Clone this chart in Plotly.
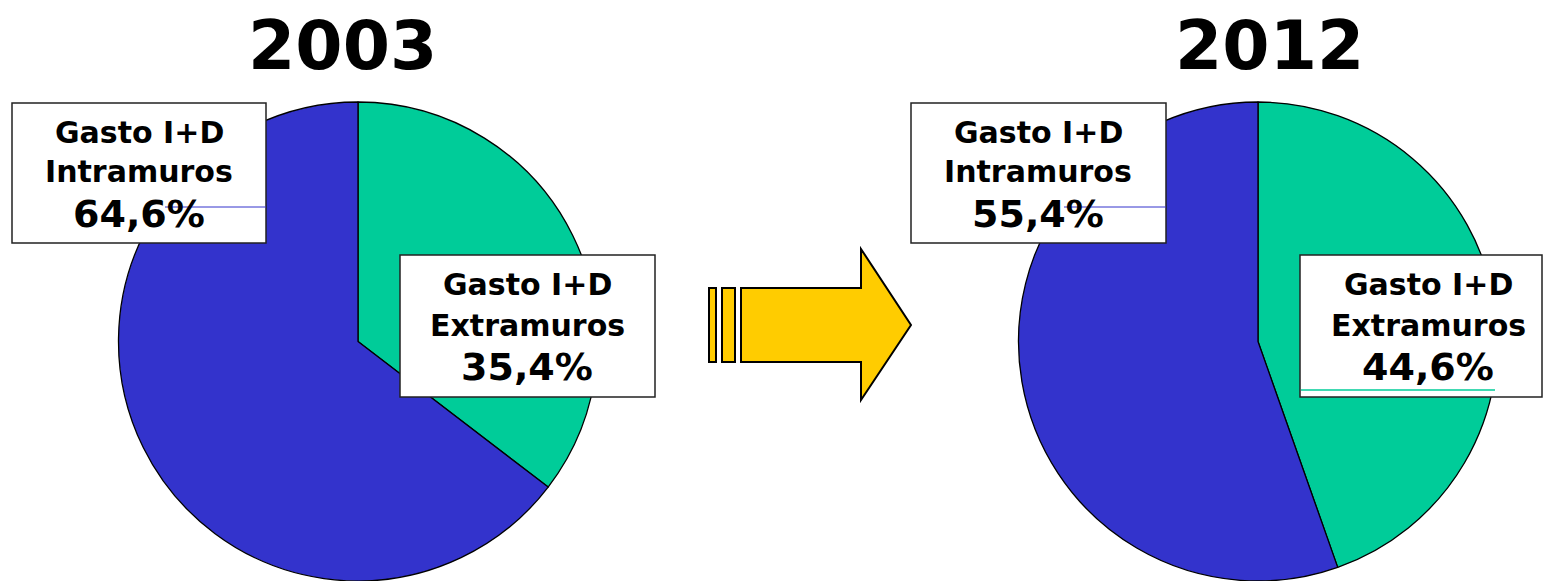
import plotly.graph_objects as go

W, H = 1543, 581

categories = ["Gasto I+D Extramuros", "Gasto I+D Intramuros"]
values_2003 = [35.4, 64.6]
values_2012 = [44.6, 55.4]
years = ["2003", "2012"]
colors = ["#00CC99", "#3333CC"]

def px(x):
    return x / W

def py(y):
    return 1 - y / H

fig = go.Figure()
pie_domains_x = [(118, 598), (1018, 1498)]
for vals, (x0, x1) in zip([values_2003, values_2012], pie_domains_x):
    fig.add_trace(go.Pie(
        labels=categories, values=vals, sort=False, direction="clockwise",
        rotation=0, textinfo="none", hoverinfo="label+percent",
        marker=dict(colors=colors, line=dict(color="black", width=1.3)),
        domain=dict(x=[px(x0), px(x1)], y=[0, py(102)]),
        showlegend=False,
    ))

shapes = []
# arrow
arrow_style = dict(type="path", xref="paper", yref="paper", fillcolor="#FFCC00",
                   line=dict(color="black", width=2), layer="above")
def rect_path(x0, y0, x1, y1):
    return f"M{px(x0)},{py(y0)} L{px(x1)},{py(y0)} L{px(x1)},{py(y1)} L{px(x0)},{py(y1)} Z"
shapes.append(dict(arrow_style, path=rect_path(709, 288, 716, 362)))
shapes.append(dict(arrow_style, path=rect_path(722, 288, 735, 362)))
pts = [(741, 288), (861, 288), (861, 249), (911, 325), (861, 400), (861, 362), (741, 362)]
path = "M" + " L".join(f"{px(x)},{py(y)}" for x, y in pts) + " Z"
shapes.append(dict(arrow_style, path=path))

# label boxes
boxes = [(12, 103, 266, 243), (400, 255, 655, 397), (911, 103, 1166, 243), (1300, 255, 1542, 397)]
for x0, y0, x1, y1 in boxes:
    shapes.append(dict(type="rect", xref="paper", yref="paper", x0=px(x0), x1=px(x1),
                       y0=py(y1), y1=py(y0), fillcolor="white",
                       line=dict(color="#222222", width=1.5), layer="above"))
# faint artifact lines
shapes.append(dict(type="line", xref="paper", yref="paper", x0=px(165), x1=px(266), y0=py(207), y1=py(207),
                   line=dict(color="#3333CC", width=1), layer="above"))
shapes.append(dict(type="line", xref="paper", yref="paper", x0=px(1064), x1=px(1166), y0=py(207), y1=py(207),
                   line=dict(color="#3333CC", width=1), layer="above"))
shapes.append(dict(type="line", xref="paper", yref="paper", x0=px(1301), x1=px(1495), y0=py(390), y1=py(390),
                   line=dict(color="#00CC99", width=1.5), layer="above"))

annotations = []
font_family = "DejaVu Sans"
for text, cx in zip(years, [342, 1269]):
    annotations.append(dict(text=f"<b>{text}</b>", x=px(cx), y=py(45), xref="paper", yref="paper",
                            showarrow=False, xanchor="center", yanchor="middle",
                            font=dict(family=font_family, size=68, color="black")))

def pct(v):
    return f"{v:.1f}%".replace(".", ",")

label_lines = [
    (139, [("Gasto I+D", 132, 30), ("Intramuros", 172, 30), (pct(values_2003[1]), 214, 38)]),
    (527, [("Gasto I+D", 284, 30), ("Extramuros", 325, 30), (pct(values_2003[0]), 367, 38)]),
    (1038, [("Gasto I+D", 132, 30), ("Intramuros", 172, 30), (pct(values_2012[1]), 214, 38)]),
    (1428, [("Gasto I+D", 284, 30), ("Extramuros", 325, 30), (pct(values_2012[0]), 367, 38)]),
]
for cx, lines in label_lines:
    for text, cy, size in lines:
        annotations.append(dict(text=f"<b>{text}</b>", x=px(cx), y=py(cy), xref="paper", yref="paper",
                                showarrow=False, xanchor="center", yanchor="middle",
                                font=dict(family=font_family, size=size, color="black")))

fig.update_layout(width=W, height=H, margin=dict(l=0, r=0, t=0, b=0),
                  paper_bgcolor="white", plot_bgcolor="white",
                  shapes=shapes, annotations=annotations)
fig.write_html("out.html")
